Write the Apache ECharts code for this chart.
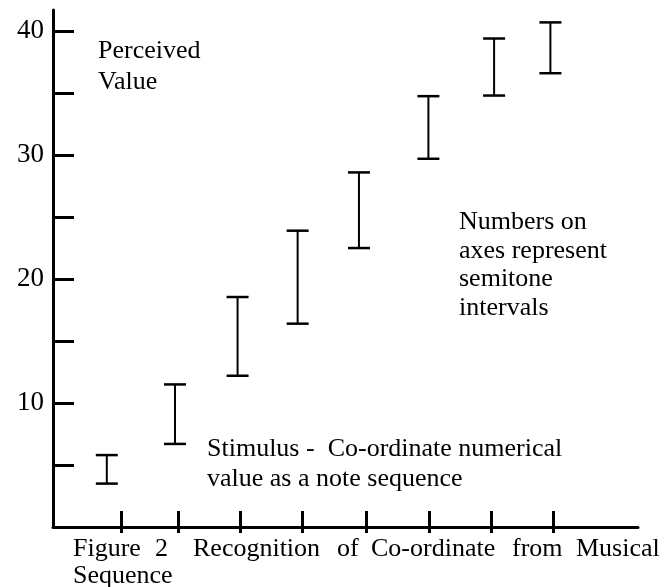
<!DOCTYPE html>
<html>
<head>
<meta charset="utf-8">
<script src="https://cdn.jsdelivr.net/npm/echarts@6/dist/echarts.min.js"></script>
<style>
  html, body { margin: 0; padding: 0; background: #fff; }
  #chart { width: 670px; height: 587px; }
</style>
</head>
<body>
<div id="chart"></div>
<script>
// error bar positions (in tick units) and ranges
var barX = [0.86, 1.95, 2.95, 3.91, 4.89, 6.0, 7.05, 7.95];
var barLow = [3.5, 6.7, 12.2, 16.4, 22.5, 29.7, 34.8, 36.6];
var barHigh = [5.8, 11.5, 18.55, 23.9, 28.6, 34.75, 39.4, 40.7];

// axis ticks
var xTicks = [1.09, 2, 2.99, 3.99, 5, 6.01, 7, 7.99];
var yTicks = [5, 10, 15, 20, 25, 30, 35, 40];
var yLabels = [10, 20, 30, 40];

var font = 'Liberation Serif';

var myChart = echarts.init(document.getElementById('chart'));

var bars = [];
for (var i = 0; i < barX.length; i++) {
    bars.push([barX[i], barLow[i], barHigh[i]]);
}

function word(txt, x, y) {
    return {
        type: 'text', x: x, y: y,
        style: { text: txt, fill: '#000', fontFamily: font, fontSize: 26, verticalAlign: 'middle' }
    };
}

var option = {
    animation: false,
    backgroundColor: '#fff',
    grid: { left: 53, right: 32, top: 10, bottom: 60 },
    xAxis: [{
        type: 'value', min: 0, max: 9.35,
        axisLine: { lineStyle: { color: '#000', width: 3 } },
        axisTick: { inside: true, length: 16, customValues: xTicks, lineStyle: { color: '#000', width: 3 } },
        axisLabel: { show: false },
        splitLine: { show: false }
    }, {
        type: 'value', min: 0, max: 9.35, position: 'bottom',
        axisLine: { show: false },
        axisTick: { length: 6, customValues: xTicks, lineStyle: { color: '#000', width: 3 } },
        axisLabel: { show: false },
        splitLine: { show: false }
    }],
    yAxis: {
        type: 'value', min: 0, max: 41.7,
        axisLine: { lineStyle: { color: '#000', width: 3 } },
        axisTick: { inside: true, length: 21, customValues: yTicks, lineStyle: { color: '#000', width: 3 } },
        axisLabel: { customValues: yLabels, color: '#000', fontFamily: font, fontSize: 27, margin: 9 },
        splitLine: { show: false }
    },
    series: [{
        type: 'custom',
        data: bars,
        renderItem: function (params, api) {
            var lo = api.coord([api.value(0), api.value(1)]);
            var hi = api.coord([api.value(0), api.value(2)]);
            var w = 11;
            return {
                type: 'group',
                children: [
                    { type: 'line', shape: { x1: lo[0], y1: lo[1], x2: hi[0], y2: hi[1] }, style: { stroke: '#000', lineWidth: 2 } },
                    { type: 'line', shape: { x1: lo[0] - w, y1: lo[1], x2: lo[0] + w, y2: lo[1] }, style: { stroke: '#000', lineWidth: 2.5 } },
                    { type: 'line', shape: { x1: hi[0] - w, y1: hi[1], x2: hi[0] + w, y2: hi[1] }, style: { stroke: '#000', lineWidth: 2.5 } }
                ]
            };
        }
    }],
    graphic: [
        word('Perceived', 98, 51),
        word('Value', 98, 82),
        word('Numbers on', 459, 222),
        word('axes represent', 459, 251),
        word('semitone', 459, 279),
        word('intervals', 459, 308),
        word('Stimulus -  Co-ordinate numerical', 207, 449),
        word('value as a note sequence', 207, 479),
        word('Figure', 73, 549),
        word('2', 155, 549),
        word('Recognition', 193, 549),
        word('of', 337, 549),
        word('Co-ordinate', 371, 549),
        word('from', 512, 549),
        word('Musical', 576, 549),
        word('Sequence', 73, 576)
    ]
};
myChart.setOption(option);
</script>
</body>
</html>
